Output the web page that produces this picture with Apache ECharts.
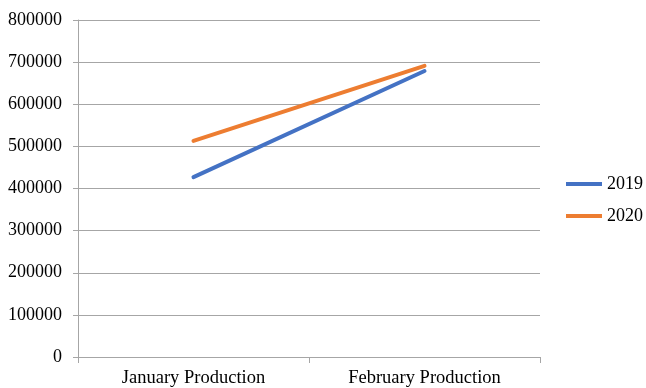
<!DOCTYPE html>
<html>
<head>
<meta charset="utf-8">
<script src="https://cdn.jsdelivr.net/npm/echarts@6/dist/echarts.min.js"></script>
<style>
  html, body { margin: 0; padding: 0; background: #ffffff; }
  #chart { width: 646px; height: 388px; }
</style>
</head>
<body>
<div id="chart"></div>
<script>
// Monthly production, two years
const categories = ['January Production', 'February Production'];
const seriesNames = ['2019', '2020'];
const values2019 = [427000, 679000];
const values2020 = [513000, 691000];
const seriesColors = ['#4472C4', '#ED7D31'];

const fontFamily = '"Liberation Serif", "Times New Roman", serif';
const chart = echarts.init(document.getElementById('chart'));

chart.setOption({
  animation: false,
  backgroundColor: '#ffffff',
  grid: { left: 78, right: 106, top: 20, bottom: 31 },
  legend: {
    orient: 'vertical',
    left: 566,
    top: 175,
    padding: 0,
    icon: 'rect',
    itemWidth: 36,
    itemHeight: 4,
    itemGap: 14,
    textStyle: { fontFamily: fontFamily, fontSize: 18, color: '#000', lineHeight: 18 },
    data: seriesNames
  },
  xAxis: {
    type: 'category',
    data: categories,
    boundaryGap: true,
    axisLine: { lineStyle: { color: '#a6a6a6', width: 1 } },
    axisTick: { show: true, length: 6, lineStyle: { color: '#a6a6a6' } },
    axisLabel: { fontFamily: fontFamily, fontSize: 18.5, color: '#000', margin: 12 }
  },
  yAxis: {
    type: 'value',
    min: 0,
    max: 800000,
    interval: 100000,
    axisLine: { show: true, lineStyle: { color: '#a6a6a6', width: 1 } },
    axisTick: { show: true, length: 5, lineStyle: { color: '#a6a6a6' } },
    splitLine: { lineStyle: { color: '#a6a6a6', width: 1 } },
    axisLabel: {
      fontFamily: fontFamily, fontSize: 18, color: '#000', margin: 16,
      formatter: function (v) { return String(v); }
    }
  },
  series: [
    {
      name: seriesNames[0],
      type: 'line',
      data: values2019,
      symbol: 'none',
      color: seriesColors[0],
      lineStyle: { width: 4, cap: 'round' }
    },
    {
      name: seriesNames[1],
      type: 'line',
      data: values2020,
      symbol: 'none',
      color: seriesColors[1],
      lineStyle: { width: 4, cap: 'round' }
    }
  ]
});
</script>
</body>
</html>
